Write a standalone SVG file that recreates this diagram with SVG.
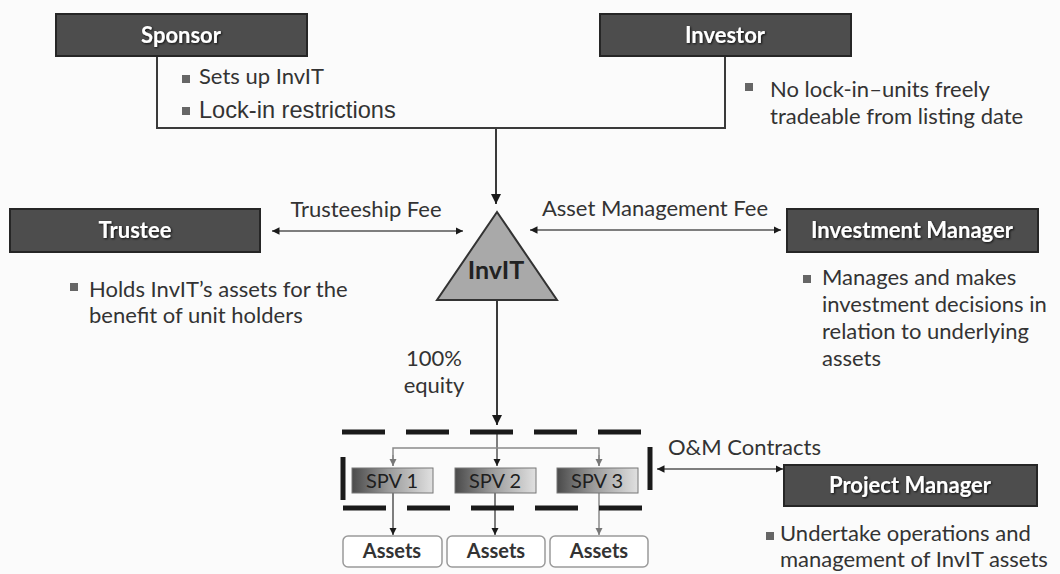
<svg xmlns="http://www.w3.org/2000/svg" width="1060" height="574" viewBox="0 0 1060 574">
  <defs>
    <style>
      .box { fill: #4d4d4d; stroke: #262626; stroke-width: 2; }
      .boxtxt { font-family: Lato, "Open Sans", sans-serif; font-weight: bold; font-size: 22px; fill: #ffffff; text-anchor: middle; }
      .txt { font-family: Lato, "Open Sans", sans-serif; font-size: 22px; fill: #333333; }
      .arial { font-family: "Liberation Sans", Arial, sans-serif; font-size: 23.6px; fill: #333333; }
      .bullet { fill: #666666; }
      .line { stroke: #3a3a3a; stroke-width: 2; fill: none; }
      .thin { stroke: #555555; stroke-width: 1.5; fill: none; }
      .light { stroke: #8a8a8a; stroke-width: 1.5; fill: none; }
      .dash { stroke: #1a1a1a; stroke-width: 5; fill: none; stroke-dasharray: 43 21; }
      .bar { stroke: #1a1a1a; stroke-width: 5; }
      .spv { stroke: #777777; stroke-width: 1; fill: url(#spvgrad); }
      .spvtxt { font-family: Lato, "Open Sans", sans-serif; font-size: 20px; fill: #1e1e1e; text-anchor: middle; }
      .asset { fill: #ffffff; stroke: #9a9a9a; stroke-width: 1.5; }
      .assettxt { font-family: Lato, "Open Sans", sans-serif; font-weight: bold; font-size: 20px; fill: #333333; text-anchor: middle; }
    </style>
    <linearGradient id="spvgrad" x1="0" y1="0" x2="1" y2="0">
      <stop offset="0" stop-color="#4a4a4a"/>
      <stop offset="0.45" stop-color="#9a9a9a"/>
      <stop offset="1" stop-color="#e0e0e0"/>
    </linearGradient>
    <filter id="shadow" x="-10%" y="-30%" width="120%" height="160%">
      <feDropShadow dx="1" dy="1" stdDeviation="0.8" flood-color="#000000" flood-opacity="0.8"/>
    </filter>
    <marker id="arr" viewBox="0 0 10 10" refX="10" refY="5" markerWidth="5" markerHeight="5" orient="auto-start-reverse" markerUnits="strokeWidth">
      <path d="M0,0 L10,5 L0,10 z" fill="#1a1a1a"/>
    </marker>
    <marker id="arrs" viewBox="0 0 10 10" refX="10" refY="5" markerWidth="5" markerHeight="5" orient="auto-start-reverse" markerUnits="strokeWidth">
      <path d="M0,0 L10,5 L0,10 z" fill="#777777"/>
    </marker>
  </defs>

  <rect x="0" y="0" width="1060" height="574" fill="#fbfbfb"/>

  <!-- connectors -->
  <g id="connectors">
    <path class="line" d="M157,56 V128 H725 V56"/>
    <line class="line" x1="496" y1="128" x2="496" y2="204" marker-end="url(#arr)"/>
    <line class="thin" x1="272" y1="231" x2="463" y2="231" marker-start="url(#arr)" marker-end="url(#arr)"/>
    <line class="thin" x1="530" y1="230" x2="781" y2="230" marker-start="url(#arr)" marker-end="url(#arr)"/>
    <line class="line" x1="497" y1="300" x2="497" y2="425" marker-end="url(#arr)" stroke="#666666"/>
    <line class="thin" x1="497" y1="432" x2="497" y2="466" marker-end="url(#arr)"/>
    <path class="light" d="M393,466 V448 H599 V466"/>
    <line class="light" x1="393" y1="455" x2="393" y2="466" marker-end="url(#arrs)"/>
    <line class="light" x1="599" y1="455" x2="599" y2="466" marker-end="url(#arrs)"/>
    <line class="thin" x1="393" y1="493" x2="393" y2="535" marker-end="url(#arr)"/>
    <line class="thin" x1="495" y1="493" x2="495" y2="535" marker-end="url(#arr)"/>
    <line class="light" x1="599" y1="493" x2="599" y2="535" marker-end="url(#arrs)"/>
    <line class="thin" x1="657" y1="469" x2="783" y2="469" marker-start="url(#arr)" marker-end="url(#arr)"/>
  </g>

  <!-- edge labels -->
  <g id="edge-labels">
    <text class="txt" x="366" y="217" text-anchor="middle">Trusteeship Fee</text>
    <text class="txt" x="655" y="216" text-anchor="middle">Asset Management Fee</text>
    <text class="txt" x="434" y="366" text-anchor="middle">100%</text>
    <text class="txt" x="434" y="393" text-anchor="middle">equity</text>
    <text class="txt" x="668" y="455">O&amp;M Contracts</text>
  </g>

  <g id="sponsor">
    <rect class="box" x="56" y="14" width="251" height="42"/>
    <text class="boxtxt" x="181" y="43" filter="url(#shadow)">Sponsor</text>
    <rect class="bullet" x="182" y="75" width="8" height="8"/>
    <text class="txt" x="199" y="84">Sets up InvIT</text>
    <rect class="bullet" x="182" y="107" width="8" height="8"/>
    <text class="arial" x="199" y="118">Lock-in restrictions</text>
  </g>

  <g id="investor">
    <rect class="box" x="600" y="14" width="251" height="42"/>
    <text class="boxtxt" x="725" y="43" filter="url(#shadow)">Investor</text>
    <rect class="bullet" x="745" y="83" width="8" height="8"/>
    <text class="txt" x="770" y="97">No lock-in–units freely</text>
    <text class="txt" x="770" y="124">tradeable from listing date</text>
  </g>

  <g id="trustee">
    <rect class="box" x="10" y="209" width="250" height="43"/>
    <text class="boxtxt" x="135" y="238" filter="url(#shadow)">Trustee</text>
    <rect class="bullet" x="70" y="283" width="8" height="8"/>
    <text class="txt" x="89" y="297">Holds InvIT’s assets for the</text>
    <text class="txt" x="89" y="323">benefit of unit holders</text>
  </g>

  <g id="invit">
    <polygon points="497,212 437,300 557,300" fill="#a9a9a9" stroke="#333333" stroke-width="2" stroke-linejoin="miter"/>
    <text x="496" y="279" text-anchor="middle" font-family="Lato, 'Open Sans', sans-serif" font-weight="bold" font-size="25" fill="#222222">InvIT</text>
  </g>

  <g id="investment-manager">
    <rect class="box" x="787" y="209" width="251" height="43"/>
    <text class="boxtxt" x="912" y="238" filter="url(#shadow)">Investment Manager</text>
    <rect class="bullet" x="803" y="275" width="8" height="8"/>
    <text class="txt" x="822" y="285">Manages and makes</text>
    <text class="txt" x="822" y="312">investment decisions in</text>
    <text class="txt" x="822" y="339">relation to underlying</text>
    <text class="txt" x="822" y="366">assets</text>
  </g>

  <g id="spv-boundary">
    <line class="dash" x1="342" y1="432" x2="644" y2="432"/>
    <line class="dash" x1="343" y1="508" x2="648" y2="508"/>
    <line class="bar" x1="343" y1="457" x2="343" y2="500"/>
    <line class="bar" x1="650" y1="447" x2="650" y2="490"/>
  </g>

  <g id="spv1">
    <rect class="spv" x="352" y="468" width="81" height="25"/>
    <text class="spvtxt" x="392" y="488">SPV 1</text>
  </g>
  <g id="spv2">
    <rect class="spv" x="455" y="468" width="81" height="25"/>
    <text class="spvtxt" x="495" y="488">SPV 2</text>
  </g>
  <g id="spv3">
    <rect class="spv" x="557" y="468" width="81" height="25"/>
    <text class="spvtxt" x="597" y="488">SPV 3</text>
  </g>

  <g id="assets1">
    <rect class="asset" x="343" y="536" width="99" height="31" rx="5"/>
    <text class="assettxt" x="392" y="558">Assets</text>
  </g>
  <g id="assets2">
    <rect class="asset" x="447" y="536" width="98" height="31" rx="5"/>
    <text class="assettxt" x="496" y="558">Assets</text>
  </g>
  <g id="assets3">
    <rect class="asset" x="550" y="536" width="98" height="31" rx="5"/>
    <text class="assettxt" x="599" y="558">Assets</text>
  </g>

  <g id="project-manager">
    <rect class="box" x="784" y="465" width="253" height="41"/>
    <text class="boxtxt" x="910" y="493" filter="url(#shadow)">Project Manager</text>
    <rect class="bullet" x="766" y="532" width="8" height="8"/>
    <text class="txt" x="780" y="541" font-size="21">Undertake operations and</text>
    <text class="txt" x="780" y="567" font-size="21">management of InvIT assets</text>
  </g>
</svg>
